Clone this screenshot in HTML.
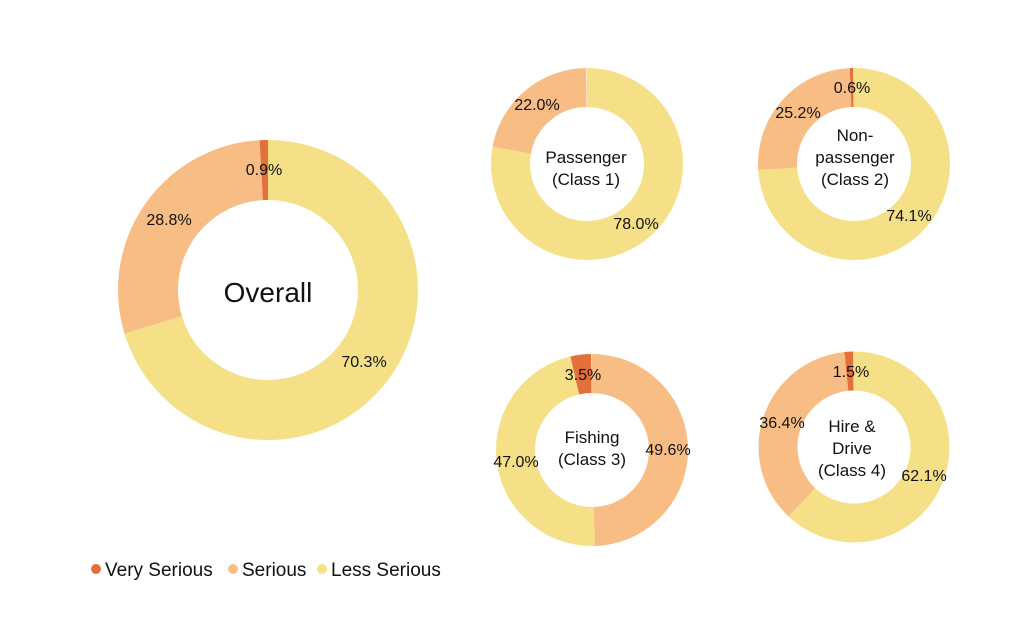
<!DOCTYPE html>
<html><head><meta charset="utf-8"><style>
body{margin:0;background:#fff;}
svg text{font-family:"Liberation Sans",Arial,sans-serif;fill:#111;}
</style></head><body>
<svg width="1032" height="612" viewBox="0 0 1032 612" xmlns="http://www.w3.org/2000/svg">
<defs></defs>
<!-- Overall -->
<g transform="rotate(-90 268 290)" fill="none" stroke-width="60">
<circle cx="268" cy="290" r="120" pathLength="100" stroke="#F5E088" stroke-dasharray="70.3 100" stroke-dashoffset="0"/>
<circle cx="268" cy="290" r="120" pathLength="100" stroke="#F7BD84" stroke-dasharray="28.8 100" stroke-dashoffset="-70.3"/>
<circle cx="268" cy="290" r="120" pathLength="100" stroke="#E3703A" stroke-dasharray="0.9 100" stroke-dashoffset="-99.1"/>
</g>
<!-- Passenger -->
<g transform="rotate(-90 587 164)" fill="none" stroke-width="39">
<circle cx="587" cy="164" r="76.5" pathLength="100" stroke="#F5E088" stroke-dasharray="78 100" stroke-dashoffset="0"/>
<circle cx="587" cy="164" r="76.5" pathLength="100" stroke="#F7BD84" stroke-dasharray="22 100" stroke-dashoffset="-78"/>
</g>
<!-- Non-passenger -->
<g transform="rotate(-90 854 164)" fill="none" stroke-width="39">
<circle cx="854" cy="164" r="76.5" pathLength="100" stroke="#F5E088" stroke-dasharray="74.1 100" stroke-dashoffset="0"/>
<circle cx="854" cy="164" r="76.5" pathLength="100" stroke="#F7BD84" stroke-dasharray="25.3 100" stroke-dashoffset="-74.1"/>
<circle cx="854" cy="164" r="76.5" pathLength="100" stroke="#E3703A" stroke-dasharray="0.6 100" stroke-dashoffset="-99.4"/>
</g>
<!-- Fishing -->
<g transform="rotate(-90 592 450)" fill="none" stroke-width="39">
<circle cx="592" cy="450" r="76.5" pathLength="100" stroke="#F7BD84" stroke-dasharray="49.6 100" stroke-dashoffset="0"/>
<circle cx="592" cy="450" r="76.5" pathLength="100" stroke="#F5E088" stroke-dasharray="46.9 100" stroke-dashoffset="-49.6"/>
<circle cx="592" cy="450" r="76.5" pathLength="100" stroke="#E3703A" stroke-dasharray="3.5 100" stroke-dashoffset="-96.5"/>
</g>
<!-- Hire & Drive -->
<g transform="rotate(-90 854 447)" fill="none" stroke-width="39">
<circle cx="854" cy="447" r="76" pathLength="100" stroke="#F5E088" stroke-dasharray="62.1 100" stroke-dashoffset="0"/>
<circle cx="854" cy="447" r="76" pathLength="100" stroke="#F7BD84" stroke-dasharray="36.4 100" stroke-dashoffset="-62.1"/>
<circle cx="854" cy="447" r="76" pathLength="100" stroke="#E3703A" stroke-dasharray="1.5 100" stroke-dashoffset="-98.5"/>
</g>
<!-- labels -->
<g font-size="16">
<text x="264" y="175" text-anchor="middle">0.9%</text>
<text x="169" y="225" text-anchor="middle">28.8%</text>
<text x="364" y="367" text-anchor="middle">70.3%</text>
<text x="537" y="110" text-anchor="middle">22.0%</text>
<text x="636" y="229" text-anchor="middle">78.0%</text>
<text x="852" y="93" text-anchor="middle">0.6%</text>
<text x="798" y="118" text-anchor="middle">25.2%</text>
<text x="909" y="221" text-anchor="middle">74.1%</text>
<text x="583" y="380" text-anchor="middle">3.5%</text>
<text x="668" y="455" text-anchor="middle">49.6%</text>
<text x="516" y="467" text-anchor="middle">47.0%</text>
<text x="851" y="377" text-anchor="middle">1.5%</text>
<text x="782" y="428" text-anchor="middle">36.4%</text>
<text x="924" y="481" text-anchor="middle">62.1%</text>
</g>
<text x="268" y="302" font-size="28" text-anchor="middle">Overall</text>
<g font-size="17" text-anchor="middle">
<text x="586" y="163">Passenger</text><text x="586" y="185">(Class 1)</text>
<text x="855" y="141">Non-</text><text x="855" y="163">passenger</text><text x="855" y="185">(Class 2)</text>
<text x="592" y="443">Fishing</text><text x="592" y="465">(Class 3)</text>
<text x="852" y="432">Hire &amp;</text><text x="852" y="454">Drive</text><text x="852" y="476">(Class 4)</text>
</g>
<!-- legend -->
<g font-size="19">
<circle cx="96" cy="569" r="5" fill="#E3703A"/><text x="105" y="576">Very Serious</text>
<circle cx="233" cy="569" r="5" fill="#F7BD84"/><text x="242" y="576">Serious</text>
<circle cx="322" cy="569" r="5" fill="#F5E088"/><text x="331" y="576">Less Serious</text>
</g>
</svg>
</body></html>
